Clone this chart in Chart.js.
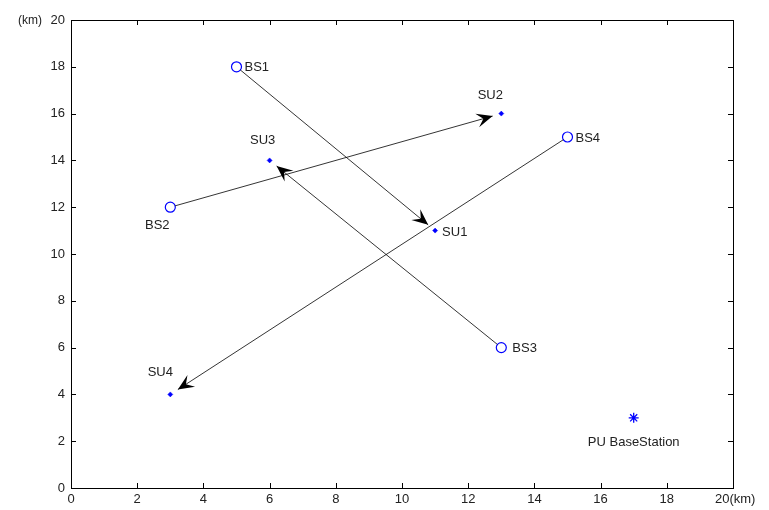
<!DOCTYPE html>
<html>
<head>
<meta charset="utf-8">
<script src="https://cdn.jsdelivr.net/npm/chart.js@4.4.0/dist/chart.umd.min.js"></script>
<style>
  html, body { margin: 0; padding: 0; background: #fff; }
  #wrap { width: 769px; height: 510px; }
</style>
</head>
<body>
<div id="wrap"><canvas id="grafico"></canvas></div>
<script>
// estacoes base e usuarios secundarios (km)
const bsNomes = ['BS1', 'BS2', 'BS3', 'BS4']
const bsX = [5, 3, 13, 15]
const bsY = [18, 12, 6, 15]
const suNomes = ['SU1', 'SU2', 'SU3', 'SU4']
const suX = [11, 13, 6, 3]
const suY = [11, 16, 14, 4]
const puNome = 'PU BaseStation'
const puX = [17]
const puY = [3]
const ticksEixo = [0, 2, 4, 6, 8, 10, 12, 14, 16, 18, 20]

const azul = '#0000ff'
const fonte = '"Liberation Sans", Arial, sans-serif'

// onde fica cada rotulo em relacao ao ponto (px)
const posBS = [[8, 1, 'left'], [-13, 18, 'center'], [11, 1, 'left'], [8, 1, 'left']]
const posSU = [[7, 2, 'left'], [-11, -18, 'center'], [-7, -20, 'center'], [-10, -22, 'center']]

const pontos = (xs, ys) => xs.map((x, i) => ({ x: x, y: ys[i] }))

const setasPlugin = {
    id: 'setas',
    afterDatasetsDraw(chart) {
        const ctx = chart.ctx
        const sx = chart.scales.x
        const sy = chart.scales.y
        const area = chart.chartArea

        // caixa e ticks para dentro, estilo matlab
        ctx.save()
        ctx.strokeStyle = '#000'
        ctx.lineWidth = 1
        ctx.strokeRect(Math.round(area.left) + 0.5, Math.round(area.top) + 0.5,
            Math.round(area.right - area.left), Math.round(area.bottom - area.top))
        ctx.beginPath()
        ticksEixo.forEach(v => {
            const px = Math.round(sx.getPixelForValue(v)) + 0.5
            ctx.moveTo(px, area.bottom); ctx.lineTo(px, area.bottom - 5)
            ctx.moveTo(px, area.top); ctx.lineTo(px, area.top + 5)
            const py = Math.round(sy.getPixelForValue(v)) + 0.5
            ctx.moveTo(area.left, py); ctx.lineTo(area.left + 5, py)
            ctx.moveTo(area.right, py); ctx.lineTo(area.right - 5, py)
        })
        ctx.stroke()

        // setas BS -> SU
        bsX.forEach((x, i) => {
            const x0 = sx.getPixelForValue(x), y0 = sy.getPixelForValue(bsY[i])
            const x1 = sx.getPixelForValue(suX[i]), y1 = sy.getPixelForValue(suY[i])
            const ang = Math.atan2(y1 - y0, x1 - x0)
            const tx = x1 - Math.cos(ang) * 9, ty = y1 - Math.sin(ang) * 9
            const sxp = x0 + Math.cos(ang) * 5, syp = y0 + Math.sin(ang) * 5
            ctx.beginPath()
            ctx.moveTo(sxp, syp)
            ctx.lineTo(tx, ty)
            ctx.strokeStyle = '#000'
            ctx.lineWidth = 0.8
            ctx.stroke()
            const L = 16, W = 7
            const bx = tx - Math.cos(ang) * L, by = ty - Math.sin(ang) * L
            const nx = -Math.sin(ang), ny = Math.cos(ang)
            const mx = tx - Math.cos(ang) * L * 0.6, my = ty - Math.sin(ang) * L * 0.6
            ctx.beginPath()
            ctx.moveTo(tx, ty)
            ctx.lineTo(bx + nx * W, by + ny * W)
            ctx.lineTo(mx, my)
            ctx.lineTo(bx - nx * W, by - ny * W)
            ctx.closePath()
            ctx.fillStyle = '#000'
            ctx.fill()
        })

        // rotulos
        ctx.font = '13px ' + fonte
        ctx.fillStyle = '#222'
        ctx.textBaseline = 'middle'
        bsNomes.forEach((n, i) => {
            const p = posBS[i]
            ctx.textAlign = p[2]
            ctx.fillText(n, sx.getPixelForValue(bsX[i]) + p[0], sy.getPixelForValue(bsY[i]) + p[1])
        })
        suNomes.forEach((n, i) => {
            const p = posSU[i]
            ctx.textAlign = p[2]
            ctx.fillText(n, sx.getPixelForValue(suX[i]) + p[0], sy.getPixelForValue(suY[i]) + p[1])
        })
        ctx.textAlign = 'center'
        ctx.fillText(puNome, sx.getPixelForValue(puX[0]), sy.getPixelForValue(puY[0]) + 25)

        // unidades e o ultimo tick do x
        ctx.textAlign = 'left'
        ctx.fillText('20(km)', sx.getPixelForValue(20) - 18, area.bottom + 11)
        ctx.font = '12px ' + fonte
        ctx.textAlign = 'right'
        ctx.fillText('(km)', area.left - 29, sy.getPixelForValue(20) + 1)
        ctx.restore()
    }
}

const grafico = new Chart(document.querySelector('#grafico'), {
    type: 'scatter',
    data: {
        datasets: [
            {
                label: 'BS',
                data: pontos(bsX, bsY),
                pointStyle: 'circle',
                pointRadius: 5,
                borderColor: azul,
                backgroundColor: 'rgba(0,0,0,0)',
                borderWidth: 1.2
            },
            {
                label: 'SU',
                data: pontos(suX, suY),
                pointStyle: 'rectRot',
                pointRadius: 2.5,
                borderColor: azul,
                backgroundColor: azul,
                borderWidth: 0.5
            },
            {
                label: 'PU',
                data: pontos(puX, puY),
                pointStyle: 'star',
                pointRadius: 5,
                borderColor: azul,
                backgroundColor: azul,
                borderWidth: 1.3
            }
        ]
    },
    options: {
        responsive: true,
        maintainAspectRatio: false,
        animation: false,
        layout: { padding: { top: 20, right: 36, left: 0, bottom: 0 } },
        plugins: {
            legend: { display: false },
            tooltip: { enabled: false }
        },
        scales: {
            x: {
                type: 'linear',
                min: 0,
                max: 20,
                afterBuildTicks: (ax) => { ax.ticks = ticksEixo.map(v => ({ value: v })) },
                afterFit: (ax) => { ax.height = 22 },
                grid: { display: false, tickLength: 0 },
                border: { display: false },
                ticks: {
                    color: '#222', font: { family: fonte, size: 13 }, padding: 4, maxRotation: 0,
                    callback: (v) => v === 20 ? '' : v
                }
            },
            y: {
                type: 'linear',
                min: 0,
                max: 20,
                afterBuildTicks: (ax) => { ax.ticks = ticksEixo.map(v => ({ value: v })) },
                afterFit: (ax) => { ax.width = 71 },
                grid: { display: false, tickLength: 0 },
                border: { display: false },
                ticks: { color: '#222', font: { family: fonte, size: 13 }, padding: 6 }
            }
        }
    },
    plugins: [setasPlugin]
})
</script>
</body>
</html>
